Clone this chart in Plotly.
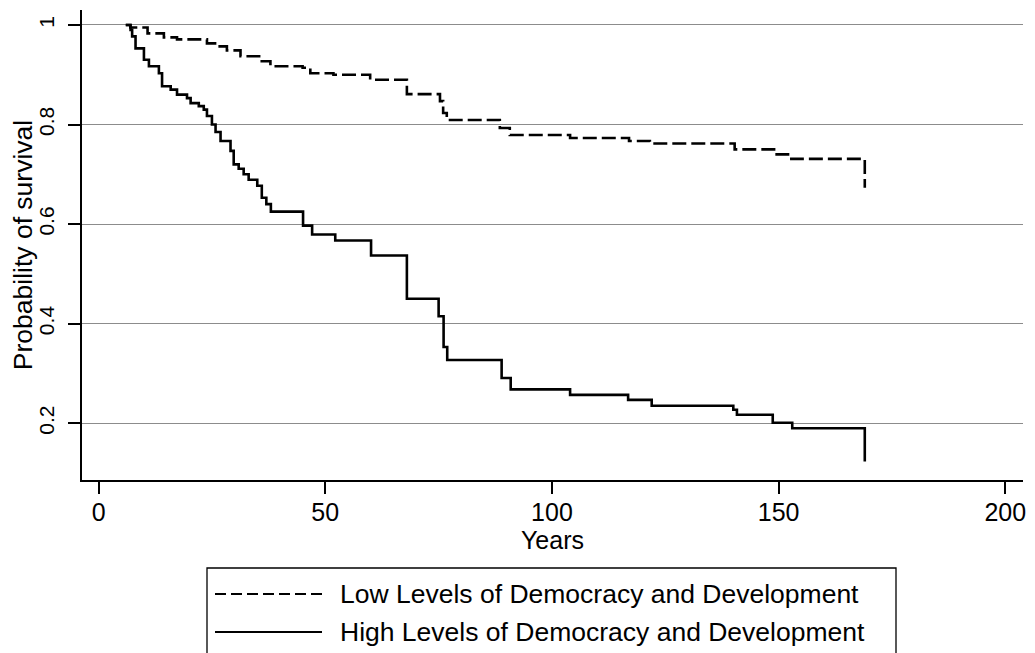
import plotly.graph_objects as go

# Kaplan-Meier style survival estimates
low_years = [6, 7, 10.8, 14.4, 17.3, 23.9, 26.1, 28.3, 31.3, 35.7, 37.9, 45, 46.7, 51.8,
             59.9, 68, 75.3, 76, 76.8, 88.5, 90.7, 104, 117, 121.6, 140.3, 149, 152.8, 169]
low_surv = [1.0, 0.995, 0.983, 0.975, 0.971, 0.963, 0.957, 0.949, 0.937, 0.927, 0.917, 0.914,
            0.903, 0.90, 0.89, 0.861, 0.847, 0.823, 0.809, 0.793, 0.779, 0.773, 0.767, 0.762,
            0.75, 0.74, 0.731, 0.673]

high_years = [6, 7.05, 7.4, 8.15, 10, 11.1, 13.3, 14, 15.9, 17.3, 19.5, 20.3, 22.1, 23.2, 23.9,
              25, 25.8, 26.9, 29.1, 29.8, 30.9, 32, 33.1, 35, 36, 37, 38, 45.1, 47.1, 52.2,
              60.1, 68, 75, 76.1, 76.9, 88.9, 90.9, 104, 116.8, 122, 140, 140.8, 148.7, 153, 169]
high_surv = [1.0, 0.99, 0.977, 0.953, 0.93, 0.917, 0.903, 0.877, 0.87, 0.86, 0.853, 0.843, 0.837,
             0.83, 0.817, 0.80, 0.785, 0.767, 0.747, 0.72, 0.711, 0.70, 0.689, 0.677, 0.653, 0.64,
             0.625, 0.597, 0.579, 0.567, 0.537, 0.45, 0.415, 0.353, 0.327, 0.291, 0.268, 0.257,
             0.247, 0.235, 0.227, 0.217, 0.201, 0.19, 0.123]

series_names = ["Low Levels of Democracy and Development",
                "High Levels of Democracy and Development"]
x_ticks = [0, 50, 100, 150, 200]
y_ticks = [0.2, 0.4, 0.6, 0.8, 1.0]
y_tick_text = ["0.2", "0.4", "0.6", "0.8", "1"]

SANS = "Liberation Sans, Arial, Helvetica, sans-serif"

fig = go.Figure()
fig.add_trace(go.Scatter(x=low_years, y=low_surv, mode="lines", line_shape="hv",
                         line=dict(color="black", width=2.6, dash="14px,5px"),
                         name=series_names[0], showlegend=False))
fig.add_trace(go.Scatter(x=high_years, y=high_surv, mode="lines", line_shape="hv",
                         line=dict(color="black", width=2.6),
                         name=series_names[1], showlegend=False))

# plot area geometry (figure pixels; the page adds an 8px body margin)
OFF = 8
L, R, T, B = 74, 20, 2, 181
W = 1035 - L - R
H = 653 - T - B


def px(xs):
    return (xs - OFF - L) / W


def py(ys):
    return (653 - B - (ys - OFF)) / H


shapes = [
    dict(type="rect", xref="paper", yref="paper", x0=px(207), x1=px(896), y0=py(670), y1=py(568),
         line=dict(color="black", width=1.3), fillcolor="rgba(0,0,0,0)"),
    dict(type="line", xref="paper", yref="paper", x0=px(215), x1=px(322), y0=py(594), y1=py(594),
         line=dict(color="black", width=2.2, dash="11px,5px")),
    dict(type="line", xref="paper", yref="paper", x0=px(215), x1=px(322), y0=py(632), y1=py(632),
         line=dict(color="black", width=2.2)),
]
annotations = [
    dict(xref="paper", yref="paper", x=px(338), y=py(594), text=series_names[0], showarrow=False,
         xanchor="left", yanchor="middle", font=dict(family=SANS, size=26.5, color="black")),
    dict(xref="paper", yref="paper", x=px(338), y=py(632), text=series_names[1], showarrow=False,
         xanchor="left", yanchor="middle", font=dict(family=SANS, size=26.5, color="black")),
]

fig.update_layout(
    width=1035, height=653,
    margin=dict(l=L, r=R, t=T, b=B),
    paper_bgcolor="white", plot_bgcolor="white",
    showlegend=False,
    shapes=shapes, annotations=annotations,
    xaxis=dict(range=[-3.66, 203.9], tickvals=x_ticks, ticks="outside", ticklen=12, tickwidth=1.5,
               tickcolor="black", showline=True, linecolor="black", linewidth=2, showgrid=False,
               zeroline=False, ticklabelstandoff=-3,
               tickfont=dict(family=SANS, size=25, color="black"),
               title=dict(text="Years", font=dict(family=SANS, size=25, color="black"), standoff=4)),
    yaxis=dict(range=[0.086, 1.03], tickvals=y_ticks, ticktext=y_tick_text, ticks="outside",
               ticklen=12, tickwidth=1.5, tickcolor="black", showline=True, linecolor="black",
               linewidth=2, showgrid=True, gridcolor="#8c8c8c", gridwidth=1.2, zeroline=False,
               tickangle=-90, ticklabelstandoff=6,
               tickfont=dict(family=SANS, size=21, color="black"),
               title=dict(text="Probability of survival",
                          font=dict(family=SANS, size=26.5, color="black"), standoff=2)),
)

fig.write_html("out.html")
